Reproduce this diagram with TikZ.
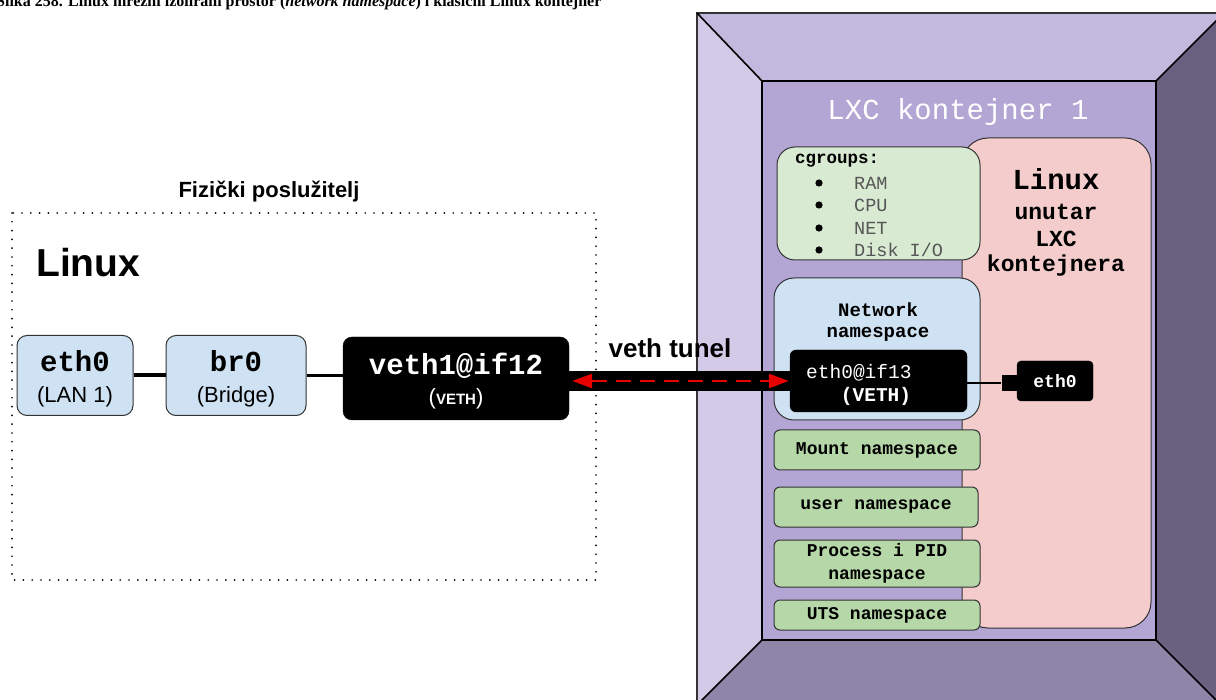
\documentclass[tikz,border=0pt]{standalone}
\usepackage{fontspec}
\setmainfont{Liberation Sans}
\newfontfamily\mono{Liberation Mono}
\newfontfamily\capfont{Liberation Serif}
\usetikzlibrary{arrows.meta}
\newcommand\fsz[2]{\fontsize{#1}{#2}\selectfont}
\definecolor{lblue}{HTML}{CFE2F3}
\definecolor{lgreen}{HTML}{D9EAD3}
\definecolor{mgreen}{HTML}{B6D7A8}
\definecolor{lpink}{HTML}{F4CCCC}
\definecolor{cleft}{HTML}{D3CAE8}
\definecolor{ctop}{HTML}{C3B9DE}
\definecolor{cright}{HTML}{6A6180}
\definecolor{cbot}{HTML}{8E85A8}
\definecolor{cinner}{HTML}{B4A6D4}
\definecolor{edgec}{HTML}{333333}
\definecolor{itemgray}{HTML}{555555}
\definecolor{tunred}{HTML}{E60000}
\tikzset{
  bluebox/.style={draw=edgec, line width=1, fill=lblue, rounded corners=10, inner sep=0, align=center},
  blackbox/.style={draw=black, fill=black, rounded corners=9, inner sep=0, align=center, text=white},
  nsbox/.style={draw=edgec, line width=1, fill=mgreen, rounded corners=6, inner sep=0, align=center,
     font=\mono\bfseries\fsz{18}{22}},
  txt/.style={inner sep=0},
  panel/.style={draw=black, line width=1.6},
}
\begin{document}
\begin{tikzpicture}[x=1pt,y=-1pt]
\useasboundingbox (0,0) rectangle (1216,700);
% caption
\node[txt, anchor=base west] (cap) at (-4,6.5) {\capfont\bfseries\fsz{16}{18}Slika 258. Linux mrežni izolirani prostor (\textit{network namespace}) i klasični Linux kontejner};
% physical server
\node[txt] (fiz) at (269,192) {\bfseries\fsz{22}{24}Fizički poslužitelj};
\draw[line width=1.9, dash pattern=on 0pt off 8.8pt, line cap=round] (12,213) rectangle (596,580);
\node[txt, anchor=west] (lin) at (36,263) {\bfseries\fsz{39}{42}Linux};
\node[bluebox, minimum width=116, minimum height=80] (eth0) at (75,375.5) {};
\node[txt] (eth0a) at (75,361) {\mono\bfseries\fsz{29}{30}eth0};
\node[txt] (eth0b) at (75,397) {\fsz{22}{24}(LAN 1)};
\node[bluebox, minimum width=140, minimum height=80] (br0) at (236,375.5) {};
\node[txt] (br0a) at (236,361) {\mono\bfseries\fsz{29}{30}br0};
\node[txt] (br0b) at (236,397) {\fsz{22}{24}(Bridge)};
\node[blackbox, minimum width=226, minimum height=83] (veth1) at (456,378.5) {};
\node[txt, text=white] (v1a) at (456,366) {\mono\bfseries\fsz{29}{30}veth1@if12};
\node[txt, text=white] (v1b) at (456,399) {\fsz{22}{24}(\bfseries\fsz{15}{16}VETH\normalfont\fsz{22}{24})};
\draw[line width=4] (eth0.east) -- (br0.west);
\draw[line width=3.5] (br0.east) -- (veth1.west |- br0.east);
% container
\fill[cleft] (697,13) -- (762,81) -- (762,640) -- (697,705) -- cycle;
\fill[ctop] (697,13) -- (1224,13) -- (1156,81) -- (762,81) -- cycle;
\fill[cright] (1224,13) -- (1156,81) -- (1156,640) -- (1224,708) -- cycle;
\fill[cbot] (762,640) -- (1156,640) -- (1224,708) -- (697,705) -- cycle;
\draw[line width=1.2, draw=edgec] (697,705) -- (697,13) -- (1224,13);
\draw[panel] (697,13) -- (762,81) (1224,13) -- (1156,81) (762,640) -- (697,705) (1156,640) -- (1224,708);
\draw[panel, fill=cinner] (762,81) rectangle (1156,640);
\node[txt, text=white] (lxc) at (958,112) {\mono\fsz{29}{30}LXC kontejner 1};
% pink
\node[draw=edgec, line width=1, fill=lpink, rounded corners=26, minimum width=189, minimum height=490] (pink) at (1056.5,383) {};
\node[txt] (p1) at (1056,179) {\mono\bfseries\fsz{29}{30}Linux};
\node[txt] (p2) at (1056,212) {\mono\bfseries\fsz{23}{24}unutar};
\node[txt] (p3) at (1056,239) {\mono\bfseries\fsz{23}{24}LXC};
\node[txt] (p4) at (1056,266) {\mono\bfseries\fsz{23}{24}kontejnera};
% cgroups
\node[draw=edgec, line width=1, fill=lgreen, rounded corners=18, minimum width=203, minimum height=113] (cg) at (878.5,203.5) {};
\node[txt, anchor=west] (cgt) at (795,161) {\mono\bfseries\fsz{17.5}{20}cgroups:};
\foreach \t/\yy [count=\i] in {RAM/183,CPU/205,NET/228,Disk I\slash O/250}{
  \fill (819,\yy) circle (3.6);
  \node[txt, anchor=west, text=itemgray] (cgi\i) at (854,\yy) {\mono\fsz{18.5}{20}\t};
}
% network namespace
\node[draw=edgec, line width=1, fill=lblue, rounded corners=20, minimum width=206, minimum height=142] (netns) at (877,349) {};
\node[txt] (nn1) at (878,310) {\mono\bfseries\fsz{19}{20}Network};
\node[txt] (nn2) at (878,334) {\mono\bfseries\fsz{19}{20}namespace};
\node[blackbox, rounded corners=6, minimum width=177, minimum height=62] (ethif) at (878.5,381) {};
\node[txt, anchor=west, text=white] (ei1) at (806,373) {\mono\fsz{19.5}{20}eth0@if13};
\node[txt, text=white] (ei2) at (876,396) {\mono\bfseries\fsz{19.5}{20}(VETH)};
% small eth0
\node[blackbox, rounded corners=4, minimum width=76, minimum height=40] (ethz) at (1055,381) {\mono\bfseries\fsz{18}{20}eth0};
\node[fill=black, inner sep=0, minimum width=17, minimum height=16] (stub) at (1010,383) {};
\draw[line width=1.6] (ethif.east |- stub.west) -- (stub.west);
% namespaces
\node[nsbox, minimum width=206, minimum height=40] (mnt) at (877,450) {Mount namespace};
\node[nsbox, minimum width=204, minimum height=40] (usr) at (876,507) {user namespace};
\node[nsbox, minimum width=206, minimum height=47] (pid) at (877,563.5) {Process i PID\\[1pt]namespace};
\node[nsbox, minimum width=206, minimum height=30] (uts) at (877,615) {UTS namespace};
% tunnel
\draw[line width=20, line cap=butt] (veth1.east |- ethif.west) -- (ethif.west);
\draw[tunred, line width=2.6, dash pattern=on 15pt off 9pt, {Triangle[length=20pt,width=14pt]}-{Triangle[length=20pt,width=14pt]}] ([xshift=3pt]veth1.east |- ethif.west) -- ([xshift=-1pt]ethif.west);
\node[txt] (vt) at (670,348) {\bfseries\fsz{26}{28}veth tunel};
\end{tikzpicture}
\end{document}
